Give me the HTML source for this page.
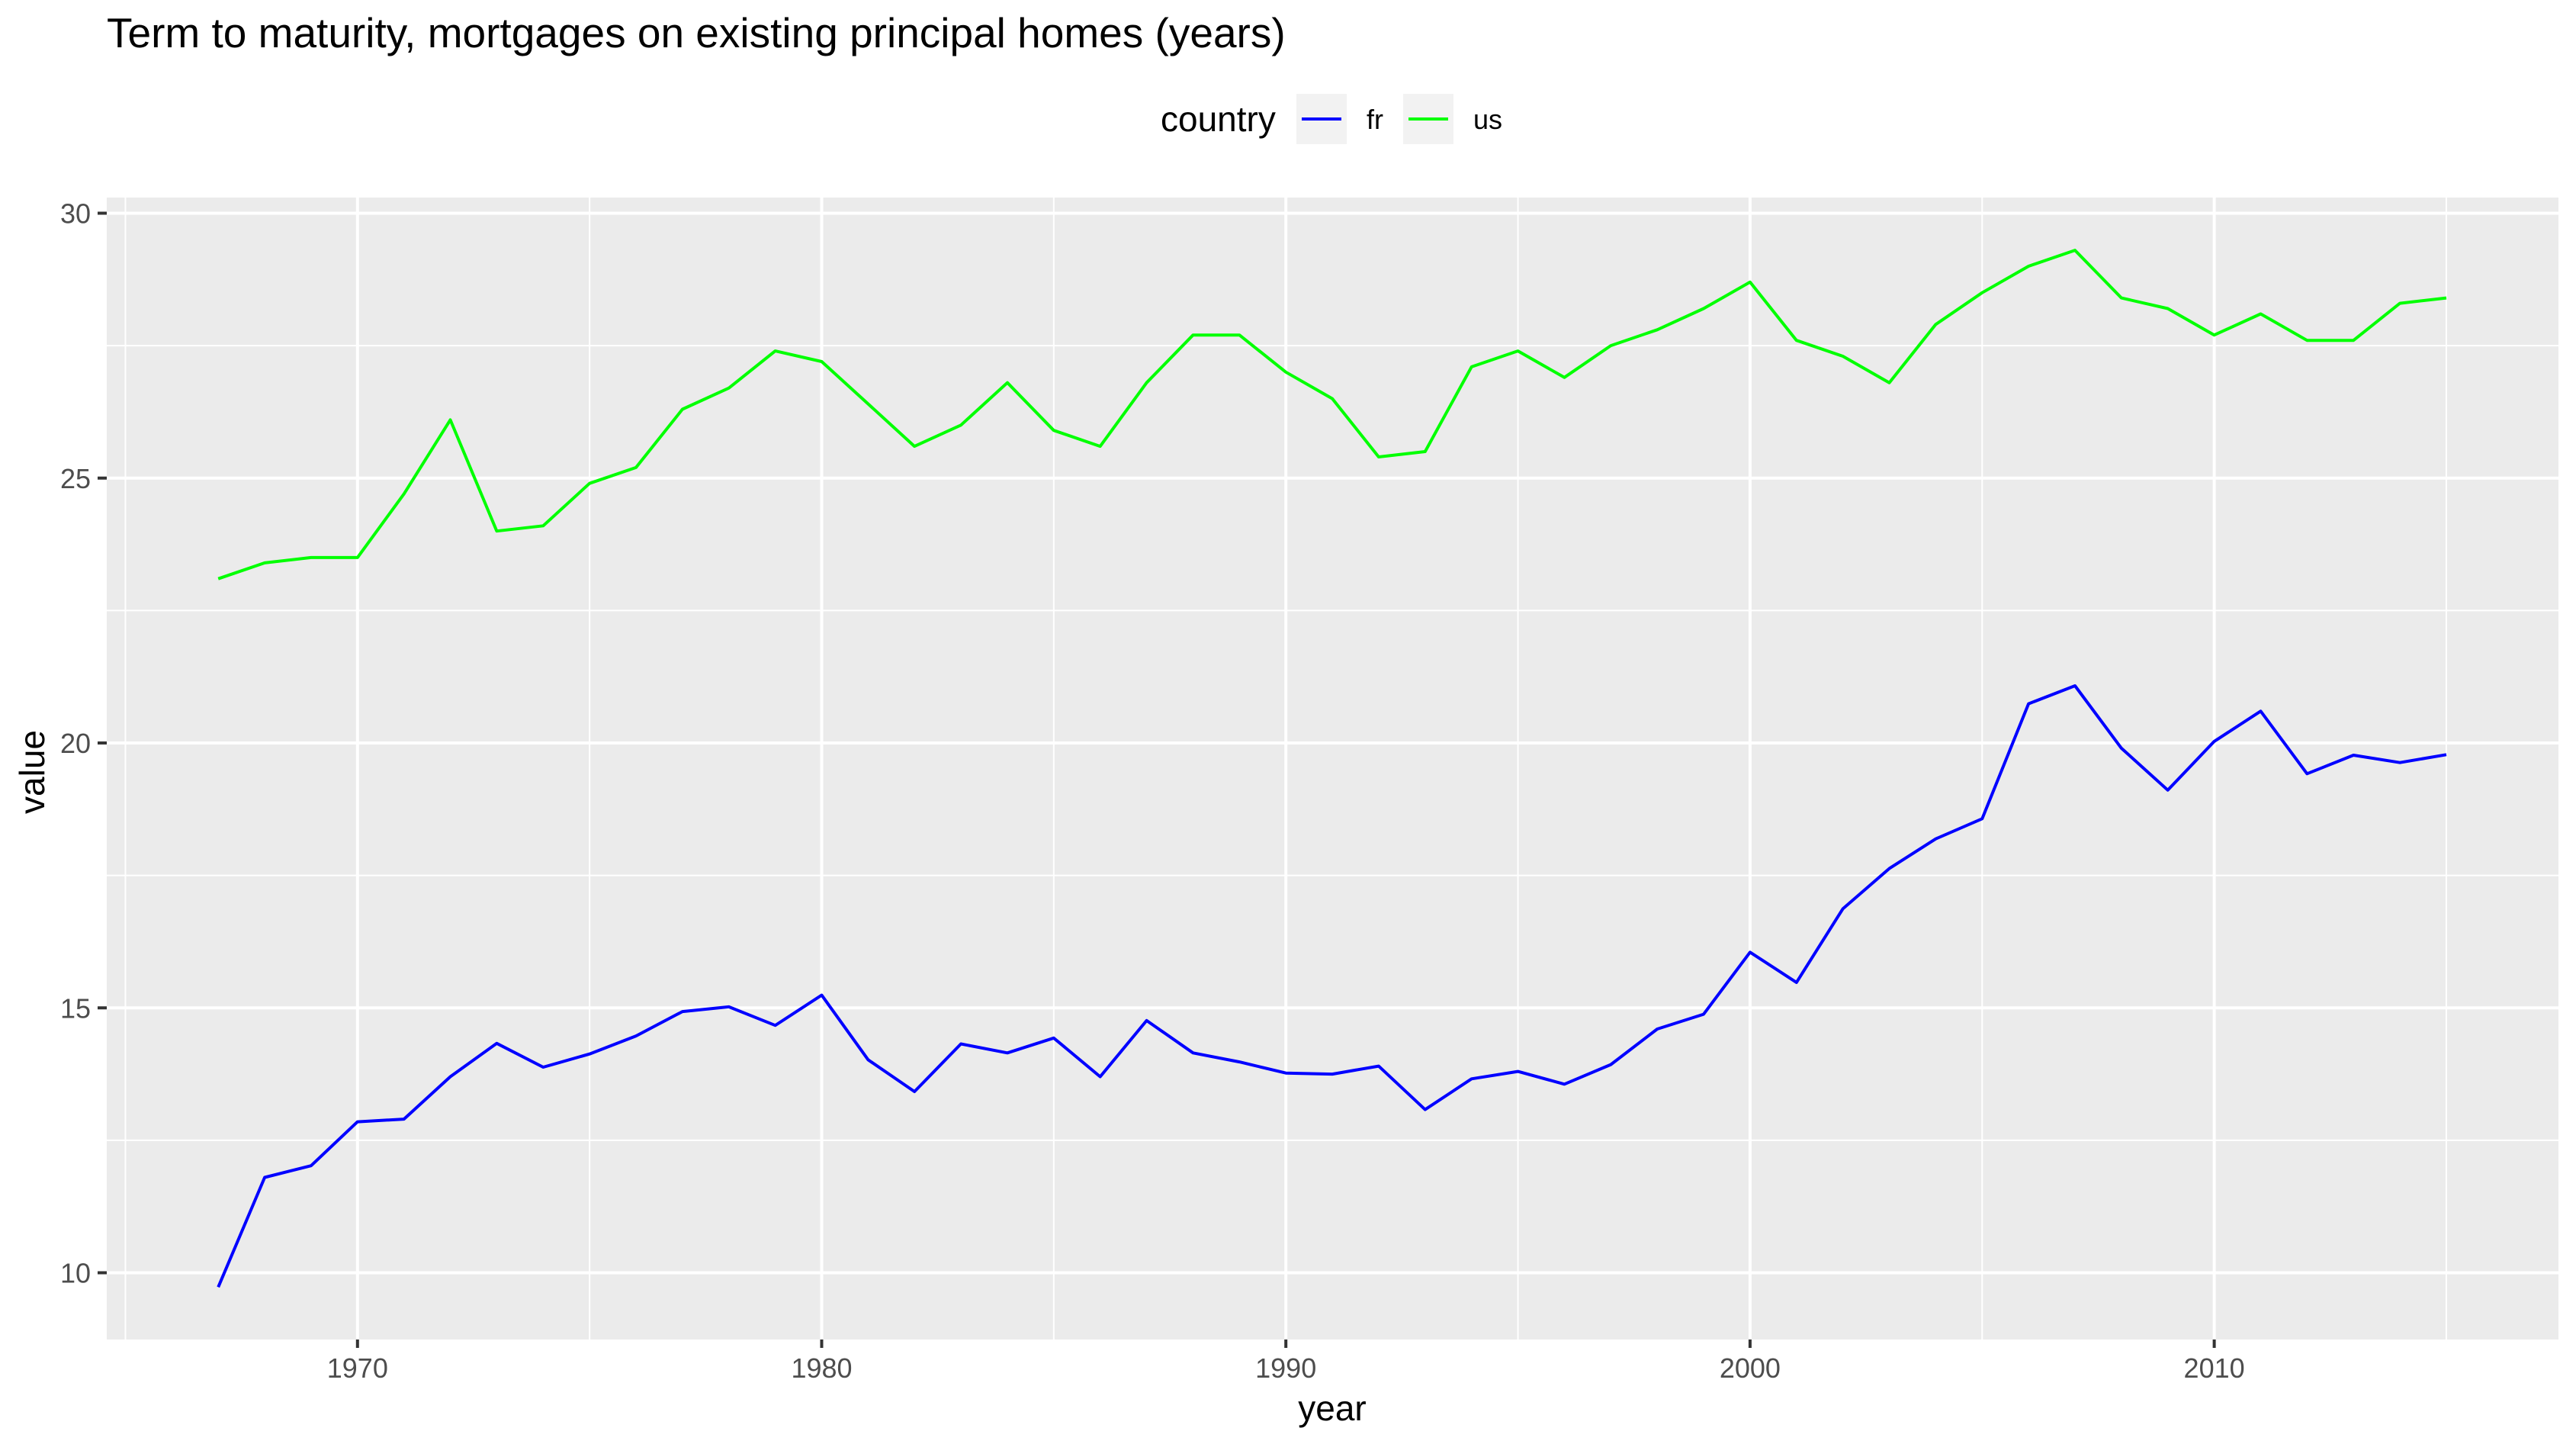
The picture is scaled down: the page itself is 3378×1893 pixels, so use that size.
<!DOCTYPE html>
<html><head><meta charset="utf-8"><style>
body{margin:0;background:#fff}
svg{display:block;font-family:"Liberation Sans",Arial,sans-serif}
</style></head><body>
<svg id="chart" width="3378" height="1893" viewBox="0 0 3378 1893" xmlns="http://www.w3.org/2000/svg">
<rect width="3378" height="1893" fill="#fff"/>
<text x="140" y="62" font-size="55" fill="#000">Term to maturity, mortgages on existing principal homes (years)</text>
<g id="legend">
<text x="1522" y="172" font-size="46" fill="#000">country</text>
<rect x="1700" y="123" width="66" height="66" fill="#f2f2f2"/>
<line x1="1707" y1="156" x2="1759" y2="156" stroke="#0000ff" stroke-width="4"/>
<text x="1792" y="169" font-size="36" fill="#000">fr</text>
<rect x="1840" y="123" width="66" height="66" fill="#f2f2f2"/>
<line x1="1847" y1="156" x2="1899" y2="156" stroke="#00ff00" stroke-width="4"/>
<text x="1932" y="169" font-size="36" fill="#000">us</text>
</g>
<rect x="140" y="259" width="3215" height="1497" fill="#ebebeb"/>
<g id="grid"></g>
<g id="series"></g>
<g id="axes"></g>
<text x="1747" y="1862" font-size="46" text-anchor="middle" fill="#000">year</text>
<text transform="translate(58,1012) rotate(-90)" font-size="46" text-anchor="middle" fill="#000">value</text>
</svg>
<script>
const years = [1967,1968,1969,1970,1971,1972,1973,1974,1975,1976,1977,1978,1979,1980,1981,1982,1983,1984,1985,1986,1987,1988,1989,1990,1991,1992,1993,1994,1995,1996,1997,1998,1999,2000,2001,2002,2003,2004,2005,2006,2007,2008,2009,2010,2011,2012,2013,2014,2015];
const usValues = [23.1,23.4,23.5,23.5,24.7,26.1,24.0,24.1,24.9,25.2,26.3,26.7,27.4,27.2,26.4,25.6,26.0,26.8,25.9,25.6,26.8,27.7,27.7,27.0,26.5,25.4,25.5,27.1,27.4,26.9,27.5,27.8,28.2,28.7,27.6,27.3,26.8,27.9,28.5,29.0,29.3,28.4,28.2,27.7,28.1,27.6,27.6,28.3,28.4];
const frValues = [9.73,11.8,12.02,12.85,12.9,13.7,14.33,13.88,14.13,14.47,14.93,15.02,14.67,15.24,14.02,13.42,14.32,14.15,14.43,13.7,14.76,14.15,13.98,13.77,13.75,13.9,13.08,13.66,13.8,13.56,13.93,14.6,14.88,16.05,15.48,16.87,17.63,18.19,18.57,20.74,21.08,19.9,19.11,20.03,20.6,19.42,19.77,19.63,19.78];
const xTicks = [1970,1980,1990,2000,2010];
const xMinor = [1965,1975,1985,1995,2005,2015];
const yTicks = [10,15,20,25,30];
const yMinor = [12.5,17.5,22.5,27.5];

const NS="http://www.w3.org/2000/svg";
const PL=140,PR=3355,PT=259,PB=1756;
function xs(v){return 468.8+(v-1970)*60.87;}
function ys(v){return 1668.5-(v-10)*69.45;}
function mk(tag,attrs,parent){const e=document.createElementNS(NS,tag);for(const k in attrs)e.setAttribute(k,attrs[k]);parent.appendChild(e);return e;}
const grid=document.getElementById('grid'),axes=document.getElementById('axes'),series=document.getElementById('series');
yMinor.forEach(v=>{const l=mk('line',{x1:PL,x2:PR,y1:ys(v),y2:ys(v),stroke:'#fff','stroke-width':2},grid);

});
xMinor.forEach(v=>{const l=mk('line',{x1:xs(v),x2:xs(v),y1:PT,y2:PB,stroke:'#fff','stroke-width':2},grid);

});
yTicks.forEach(v=>{const l=mk('line',{x1:PL,x2:PR,y1:ys(v),y2:ys(v),stroke:'#fff','stroke-width':4},grid);


const t=mk('line',{x1:128,x2:PL,y1:ys(v),y2:ys(v),stroke:'#333','stroke-width':4},axes);


const tx=mk('text',{x:119,y:ys(v)+13,'font-size':36,'text-anchor':'end',fill:'#4d4d4d'},axes);tx.textContent=v;

});
xTicks.forEach(v=>{const l=mk('line',{x1:xs(v),x2:xs(v),y1:PT,y2:PB,stroke:'#fff','stroke-width':4},grid);


const t=mk('line',{x1:xs(v),x2:xs(v),y1:PB,y2:PB+11,stroke:'#333','stroke-width':4},axes);


const tx=mk('text',{x:xs(v),y:1806,'font-size':36,'text-anchor':'middle',fill:'#4d4d4d'},axes);tx.textContent=v;

});
function line(vals,color,name){const d=vals.map((v,i)=>(i?'L':'M')+xs(years[i]).toFixed(1)+','+ys(v).toFixed(1)).join('');
const p=mk('path',{d:d,fill:'none',stroke:color,'stroke-width':4,'stroke-linejoin':'round'},series);

}
line(usValues,'#00ff00','series-us');
line(frValues,'#0000ff','series-fr');
</script>
</body></html>
